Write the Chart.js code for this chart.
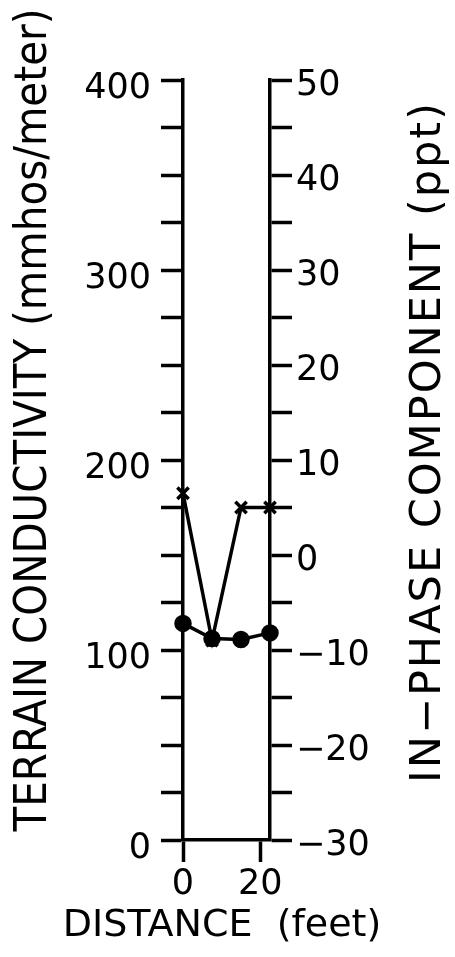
<!DOCTYPE html>
<html>
<head>
<meta charset="utf-8">
<script src="https://cdn.jsdelivr.net/npm/chart.js@4.4.1/dist/chart.umd.min.js"></script>
<style>
  html, body { margin: 0; padding: 0; background: #fff; }
  #wrap { width: 455px; height: 957px; }
</style>
</head>
<body>
<div id="wrap"><canvas id="chart" width="455" height="957"></canvas></div>
<script>
// --------------------- Data -------------------
const distance = [0, 7.5, 15, 22.5];
const conductivity = [114, 106, 105.5, 109];   // mmhos/meter, left axis
const inPhase = [6.5, -9, 5, 5];               // ppt, right axis
const distanceTicks = [0, 20];

const leftTitle = 'TERRAIN CONDUCTIVITY (mmhos/meter)';
const rightTitle = 'IN\u2212PHASE COMPONENT (ppt)';
const bottomTitle = 'DISTANCE  (feet)';

const tickFont = { family: 'DejaVu Sans', size: 35 };

function fmt(v) {
    return v < 0 ? '\u2212' + Math.abs(v) : String(v);
}

// axis titles drawn by hand (both side titles read bottom to top)
const axisTitles = {
    id: 'axisTitles',
    afterDraw(chart) {
        const ctx = chart.ctx;
        ctx.save();
        ctx.fillStyle = '#000';
        ctx.textAlign = 'center';
        ctx.textBaseline = 'middle';

        ctx.save();
        ctx.font = '45px "DejaVu Sans Condensed", "Liberation Sans Narrow", sans-serif';
        ctx.translate(34, 420);
        ctx.rotate(-Math.PI / 2);
        ctx.fillText(leftTitle, 0, 0);
        ctx.restore();

        ctx.save();
        ctx.font = '43px "DejaVu Sans", sans-serif';
        ctx.letterSpacing = '2px';
        ctx.translate(429, 442);
        ctx.rotate(-Math.PI / 2);
        ctx.fillText(rightTitle, 0, 0);
        ctx.restore();

        ctx.font = '38px "DejaVu Sans", sans-serif';
        ctx.fillText(bottomTitle, 222, 926);

        ctx.restore();
    }
};

const ctx = document.getElementById('chart').getContext('2d');
new Chart(ctx, {
    type: 'line',
    data: {
        datasets: [{
            label: 'Terrain conductivity',
            data: distance.map((d, i) => ({ x: d, y: conductivity[i] })),
            yAxisID: 'y',
            borderColor: '#000',
            backgroundColor: '#000',
            borderWidth: 3.5,
            pointStyle: 'circle',
            pointRadius: 7,
            pointBackgroundColor: '#000',
            tension: 0,
            clip: false
        }, {
            label: 'In-phase component',
            data: distance.map((d, i) => ({ x: d, y: inPhase[i] })),
            yAxisID: 'y2',
            borderColor: '#000',
            backgroundColor: '#000',
            borderWidth: 3.5,
            pointStyle: 'crossRot',
            pointRadius: 8,
            pointBorderWidth: 3.5,
            tension: 0,
            clip: false
        }]
    },
    options: {
        responsive: false,
        animation: false,
        layout: { padding: { top: 80, left: 0, right: 0, bottom: 0 } },
        plugins: {
            legend: { display: false },
            tooltip: { enabled: false }
        },
        scales: {
            x: {
                type: 'linear',
                min: 0,
                max: 22.5,
                afterBuildTicks(scale) {
                    scale.ticks = distanceTicks.map(v => ({ value: v }));
                },
                afterFit(scale) { scale.height = 117; },
                ticks: {
                    color: '#000',
                    font: tickFont,
                    padding: 2,
                    maxRotation: 0,
                    autoSkip: false
                },
                grid: {
                    drawOnChartArea: false,
                    tickLength: 22,
                    tickWidth: 3.5,
                    tickColor: '#000'
                },
                border: { color: '#000', width: 3.5 }
            },
            y: {
                position: 'left',
                min: 0,
                max: 400,
                afterFit(scale) { scale.width = 183; },
                ticks: {
                    stepSize: 25,
                    autoSkip: false,
                    color: '#000',
                    font: tickFont,
                    padding: 10,
                    labelOffset: 9,
                    callback: v => (v % 100 === 0 ? fmt(v) : '')
                },
                grid: {
                    drawOnChartArea: false,
                    tickLength: 22,
                    tickWidth: 3.5,
                    tickColor: '#000'
                },
                border: { color: '#000', width: 3.5 }
            },
            y2: {
                position: 'right',
                min: -30,
                max: 50,
                afterFit(scale) { scale.width = 185; },
                ticks: {
                    stepSize: 5,
                    autoSkip: false,
                    color: '#000',
                    font: tickFont,
                    padding: 4,
                    labelOffset: 6,
                    callback: v => (v % 10 === 0 ? fmt(v) : '')
                },
                grid: {
                    drawOnChartArea: false,
                    tickLength: 22,
                    tickWidth: 3.5,
                    tickColor: '#000'
                },
                border: { color: '#000', width: 3.5 }
            }
        }
    },
    plugins: [axisTitles]
});
</script>
</body>
</html>
